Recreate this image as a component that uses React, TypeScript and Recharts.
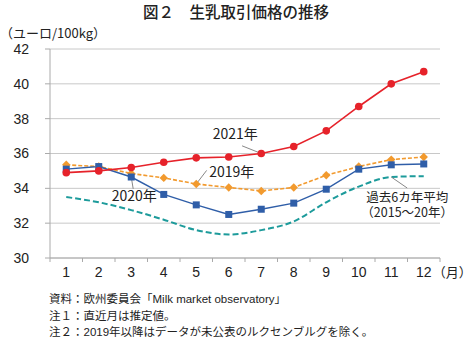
import React from 'react';
import { LineChart, Line, XAxis, YAxis, CartesianGrid, ReferenceLine, ReferenceDot } from 'recharts';

const months = [1, 2, 3, 4, 5, 6, 7, 8, 9, 10, 11, 12];
const y2021 = [34.9, 35.0, 35.2, 35.5, 35.75, 35.8, 36.0, 36.4, 37.3, 38.7, 40.0, 40.7];
const y2020 = [35.1, 35.25, 34.65, 33.65, 33.05, 32.5, 32.8, 33.15, 33.95, 35.1, 35.35, 35.4];
const y2019 = [35.35, 35.25, 34.85, 34.6, 34.25, 34.05, 33.85, 34.05, 34.75, 35.25, 35.65, 35.8];
const avg6 = [33.5, 33.2, 32.75, 32.2, 31.6, 31.35, 31.6, 32.1, 33.2, 34.1, 34.65, 34.7];
const yTicks = [30, 32, 34, 36, 38, 40, 42];

const title = '図２　生乳取引価格の推移';
const unitLabel = '（ユーロ/100kg）';
const monthUnit = '（月）';
const avgLabel1 = '過去6カ年平均';
const avgLabel2 = '（2015～20年）';
const notes = [
  '資料：欧州委員会「Milk market observatory」',
  '注１：直近月は推定値。',
  '注２：2019年以降はデータが未公表のルクセンブルグを除く。',
];

const data = months.map((m, i) => ({
  month: m,
  y2021: y2021[i],
  y2020: y2020[i],
  y2019: y2019[i],
  avg6: avg6[i],
}));

const xTicks = [0.5, ...months.flatMap((m) => [m, m + 0.5])];

const CJK = '"Noto Sans CJK JP", "Noto Sans", sans-serif';
const NUM = '"Liberation Sans", Arial, sans-serif';
const MIX = '"Liberation Sans", Arial, "Noto Sans CJK JP", sans-serif';

const XTick = (props: any) => {
  const { x, y, payload } = props;
  const v = payload.value;
  if (Number.isInteger(v)) {
    return (
      <g>
        <text x={x} y={y + 19} textAnchor="middle" fontSize={14} fill="#222" fontFamily={NUM}>
          {v}
        </text>
        {v === months[months.length - 1] ? (
          <text x={x + 9} y={y + 19} textAnchor="start" fontSize={13} fill="#222" fontFamily={CJK}>
            {monthUnit}
          </text>
        ) : null}
      </g>
    );
  }
  return <line x1={x} y1={y} x2={x} y2={y + 4} stroke="#aaa" strokeWidth={1} />;
};

const SquareDot = (props: any) => {
  const { cx, cy } = props;
  if (cx == null || cy == null) return null;
  return <rect x={cx - 3.5} y={cy - 3.5} width={7} height={7} fill="#2f5ea8" />;
};

const DiamondDot = (props: any) => {
  const { cx, cy } = props;
  if (cx == null || cy == null) return null;
  const r = 4.2;
  return <polygon points={`${cx},${cy - r} ${cx + r},${cy} ${cx},${cy + r} ${cx - r},${cy}`} fill="#f29a2e" />;
};

const CircleDot = (props: any) => {
  const { cx, cy } = props;
  if (cx == null || cy == null) return null;
  return <circle cx={cx} cy={cy} r={3.8} fill="#e6222a" />;
};

const annLabel = (value: string, fontSize = 14) => ({
  value,
  position: 'center' as const,
  fill: '#222',
  fontSize,
  fontFamily: CJK,
});

const AvgLabel = (props: any) => {
  const vb = props.viewBox || {};
  const x = vb.x ?? 0;
  const y = vb.y ?? 0;
  return (
    <text x={x} y={y} textAnchor="middle" fontSize={12.5} fill="#222" fontFamily={CJK}>
      <tspan x={x} dy={4.4}>
        {avgLabel1}
      </tspan>
      <tspan x={x} dy={15}>
        {avgLabel2}
      </tspan>
    </text>
  );
};

export default function App() {
  return (
    <div style={{ position: 'absolute', left: 0, top: 0, width: 467, height: 338, background: '#fff', overflow: 'hidden' }}>
      <div
        style={{
          position: 'absolute',
          left: 143,
          top: 0,
          fontFamily: CJK,
          fontSize: 15.5,
          fontWeight: 500,
          lineHeight: '22.5px',
          color: '#222',
          whiteSpace: 'nowrap',
        }}
      >
        {title}
      </div>
      <div
        style={{
          position: 'absolute',
          left: 0,
          top: 24,
          fontFamily: CJK,
          fontSize: 13,
          lineHeight: '18px',
          color: '#222',
          whiteSpace: 'nowrap',
        }}
      >
        {unitLabel}
      </div>
      <LineChart
        width={467}
        height={338}
        data={data}
        margin={{ top: 49, right: 27, bottom: 50, left: 0 }}
        style={{ fontFamily: CJK }}
      >
        <CartesianGrid vertical={false} stroke="#c8c8c8" strokeWidth={1} />
        <XAxis
          dataKey="month"
          type="number"
          domain={[0.5, 12.5]}
          ticks={xTicks}
          interval={0}
          tick={<XTick />}
          tickLine={false}
          tickSize={0}
          tickMargin={0}
          height={30}
          axisLine={{ stroke: '#aaa' }}
        />
        <YAxis
          type="number"
          domain={[30, 42]}
          ticks={yTicks}
          interval={0}
          width={50}
          tickSize={5}
          tickMargin={16}
          tickLine={{ stroke: '#aaa' }}
          axisLine={{ stroke: '#aaa' }}
          tick={{ fontSize: 14, fill: '#222', fontFamily: NUM }}
        />
        <Line
          dataKey="avg6"
          type="monotone"
          stroke="#1d9b9b"
          strokeWidth={2}
          strokeDasharray="6 3"
          dot={false}
          isAnimationActive={false}
        />
        <Line
          dataKey="y2019"
          type="linear"
          stroke="#f29a2e"
          strokeWidth={1.6}
          strokeDasharray="4 2"
          dot={<DiamondDot />}
          activeDot={false}
          isAnimationActive={false}
        />
        <Line
          dataKey="y2020"
          type="linear"
          stroke="#2f5ea8"
          strokeWidth={1.4}
          dot={<SquareDot />}
          activeDot={false}
          isAnimationActive={false}
        />
        <Line
          dataKey="y2021"
          type="linear"
          stroke="#e6222a"
          strokeWidth={1.6}
          dot={<CircleDot />}
          activeDot={false}
          isAnimationActive={false}
        />
        <ReferenceLine segment={[{ x: 6.41, y: 36.44 }, { x: 7, y: 36.0 }]} stroke="#888" strokeWidth={1} />
        <ReferenceLine segment={[{ x: 5.32, y: 35.03 }, { x: 5, y: 34.25 }]} stroke="#888" strokeWidth={1} />
        <ReferenceLine segment={[{ x: 3, y: 34.65 }, { x: 3.06, y: 33.97 }]} stroke="#888" strokeWidth={1} />
        <ReferenceLine segment={[{ x: 11, y: 34.65 }, { x: 11.49, y: 34.02 }]} stroke="#888" strokeWidth={1} />
        <ReferenceDot x={6.2} y={37.09} r={0} fill="none" stroke="none" label={annLabel('2021年')} />
        <ReferenceDot x={6.09} y={34.92} r={0} fill="none" stroke="none" label={annLabel('2019年')} />
        <ReferenceDot x={3.09} y={33.54} r={0} fill="none" stroke="none" label={annLabel('2020年')} />
        <ReferenceDot x={11.49} y={33.47} r={0} fill="none" stroke="none" label={{ content: (p: any) => <AvgLabel {...p} /> }} />
      </LineChart>
      <div
        style={{
          position: 'absolute',
          left: 49,
          top: 294,
          fontFamily: MIX,
          fontSize: 11.5,
          lineHeight: '11px',
          color: '#222',
          whiteSpace: 'nowrap',
        }}
      >
        {notes.map((n) => (
          <div key={n} style={{ height: 11, marginBottom: 5.5 }}>
            {n}
          </div>
        ))}
      </div>
    </div>
  );
}
